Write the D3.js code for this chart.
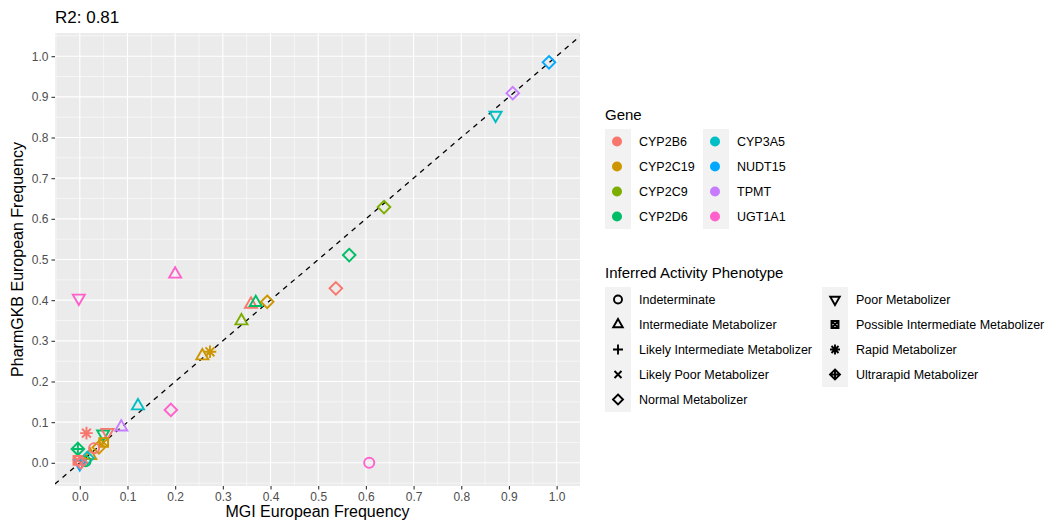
<!DOCTYPE html>
<html>
<head>
<meta charset="utf-8">
<script src="https://cdn.jsdelivr.net/npm/d3@7"></script>
<style>
  body { margin: 0; background: #fff; }
  text { font-family: "Liberation Sans", Arial, sans-serif; }
</style>
</head>
<body>
<svg id="chart" width="1049" height="525"></svg>
<script>
const genes = ['CYP2B6', 'CYP2C19', 'CYP2C9', 'CYP2D6', 'CYP3A5', 'NUDT15', 'TPMT', 'UGT1A1'];
const geneColors = ['#F8766D', '#CD9600', '#7CAE00', '#00BE67', '#00BFC4', '#00A9FF', '#C77CFF', '#FF61CC'];
const phenotypes = ['Indeterminate', 'Intermediate Metabolizer', 'Likely Intermediate Metabolizer',
  'Likely Poor Metabolizer', 'Normal Metabolizer', 'Poor Metabolizer',
  'Possible Intermediate Metabolizer', 'Rapid Metabolizer', 'Ultrarapid Metabolizer'];
const shapeNames = ['circle', 'triangle', 'plus', 'cross', 'diamond', 'triangleDown', 'squareCross', 'asterisk', 'diamondPlus'];

// one entry per point
const pointGene = ['CYP2B6', 'CYP2D6', 'CYP2C19', 'CYP2C9', 'CYP2C19', 'CYP2C19', 'UGT1A1', 'CYP2D6',
  'CYP2B6', 'CYP2C9', 'CYP3A5', 'TPMT', 'NUDT15', 'UGT1A1', 'UGT1A1', 'UGT1A1',
  'CYP3A5', 'TPMT', 'CYP2B6', 'CYP2D6', 'CYP2B6', 'CYP2C19', 'CYP2C19', 'CYP2C19',
  'CYP2B6', 'CYP2D6', 'CYP3A5', 'CYP2D6', 'NUDT15', 'CYP2B6', 'CYP2B6'];
const pointPheno = ['Intermediate Metabolizer', 'Intermediate Metabolizer', 'Normal Metabolizer', 'Intermediate Metabolizer',
  'Intermediate Metabolizer', 'Rapid Metabolizer', 'Intermediate Metabolizer', 'Normal Metabolizer',
  'Normal Metabolizer', 'Normal Metabolizer', 'Poor Metabolizer', 'Normal Metabolizer',
  'Normal Metabolizer', 'Poor Metabolizer', 'Indeterminate', 'Normal Metabolizer',
  'Intermediate Metabolizer', 'Intermediate Metabolizer', 'Rapid Metabolizer', 'Poor Metabolizer',
  'Poor Metabolizer', 'Possible Intermediate Metabolizer', 'Normal Metabolizer', 'Intermediate Metabolizer',
  'Indeterminate', 'Ultrarapid Metabolizer', 'Normal Metabolizer', 'Indeterminate',
  'Poor Metabolizer', 'Possible Intermediate Metabolizer', 'Normal Metabolizer'];
const mgiFreq = [0.359, 0.369, 0.393, 0.339, 0.257, 0.273, 0.2, 0.565,
  0.537, 0.638, 0.872, 0.908, 0.984, -0.002, 0.607, 0.191,
  0.122, 0.087, 0.014, 0.049, 0.058, 0.05, 0.04, 0.022,
  0.03, -0.004, 0.016, 0.012, 0.0, -0.004, 0.002];
const pgkbFreq = [0.39, 0.394, 0.396, 0.349, 0.263, 0.273, 0.464, 0.511,
  0.429, 0.629, 0.855, 0.909, 0.985, 0.405, 0.0, 0.13,
  0.14, 0.088, 0.073, 0.071, 0.075, 0.05, 0.038, 0.018,
  0.036, 0.034, 0.012, 0.004, -0.002, 0.006, 0.001];

const xTicks = d3.range(0, 1.0001, 0.1);
const yTicks = d3.range(0, 1.0001, 0.1);

const svg = d3.select('#chart');
const panel = { left: 55, right: 580, top: 33, bottom: 486 };

const x = d3.scaleLinear().domain([-0.052, 1.049]).range([panel.left, panel.right]);
const y = d3.scaleLinear().domain([-0.057, 1.057]).range([panel.bottom, panel.top]);
const color = d3.scaleOrdinal(genes, geneColors);
const shape = d3.scaleOrdinal(phenotypes, shapeNames);

function symbolPath(name, s) {
  const p = d3.path();
  const h = s * 0.866;
  switch (name) {
    case 'circle':
      p.moveTo(s * 0.8, 0); p.arc(0, 0, s * 0.8, 0, 2 * Math.PI); break;
    case 'triangle':
      p.moveTo(0, -s * 1.1); p.lineTo(h * 1.1, s * 0.55); p.lineTo(-h * 1.1, s * 0.55); p.closePath(); break;
    case 'triangleDown':
      p.moveTo(0, s * 1.1); p.lineTo(h * 1.1, -s * 0.55); p.lineTo(-h * 1.1, -s * 0.55); p.closePath(); break;
    case 'plus':
      p.moveTo(-s, 0); p.lineTo(s, 0); p.moveTo(0, -s); p.lineTo(0, s); break;
    case 'cross':
      p.moveTo(-s * 0.7, -s * 0.7); p.lineTo(s * 0.7, s * 0.7);
      p.moveTo(-s * 0.7, s * 0.7); p.lineTo(s * 0.7, -s * 0.7); break;
    case 'diamond':
      p.moveTo(0, -s); p.lineTo(s, 0); p.lineTo(0, s); p.lineTo(-s, 0); p.closePath(); break;
    case 'squareCross': {
      const a = s * 0.7;
      p.rect(-a, -a, 2 * a, 2 * a);
      p.moveTo(-a, -a); p.lineTo(a, a); p.moveTo(-a, a); p.lineTo(a, -a); break;
    }
    case 'asterisk': {
      const a = s * 0.7;
      p.moveTo(-s, 0); p.lineTo(s, 0); p.moveTo(0, -s); p.lineTo(0, s);
      p.moveTo(-a, -a); p.lineTo(a, a); p.moveTo(-a, a); p.lineTo(a, -a); break;
    }
    case 'diamondPlus':
      p.moveTo(0, -s); p.lineTo(s, 0); p.lineTo(0, s); p.lineTo(-s, 0); p.closePath();
      p.moveTo(-s, 0); p.lineTo(s, 0); p.moveTo(0, -s); p.lineTo(0, s); break;
  }
  return p.toString();
}

// panel background
svg.append('rect')
  .attr('x', panel.left).attr('y', panel.top)
  .attr('width', panel.right - panel.left).attr('height', panel.bottom - panel.top)
  .attr('fill', '#EBEBEB');

const grid = svg.append('g');
const minorX = d3.range(-0.05, 1.06, 0.1).filter(v => v > x.domain()[0] && v < x.domain()[1]);
const minorY = d3.range(-0.05, 1.06, 0.1).filter(v => v > y.domain()[0] && v < y.domain()[1]);

grid.selectAll('.minor-x').data(minorX).enter().append('line')
  .attr('x1', d => x(d)).attr('x2', d => x(d))
  .attr('y1', panel.top).attr('y2', panel.bottom)
  .attr('stroke', '#fff').attr('stroke-width', 0.55);
grid.selectAll('.minor-y').data(minorY).enter().append('line')
  .attr('y1', d => y(d)).attr('y2', d => y(d))
  .attr('x1', panel.left).attr('x2', panel.right)
  .attr('stroke', '#fff').attr('stroke-width', 0.55);
grid.selectAll('.major-x').data(xTicks).enter().append('line')
  .attr('x1', d => x(d)).attr('x2', d => x(d))
  .attr('y1', panel.top).attr('y2', panel.bottom)
  .attr('stroke', '#fff').attr('stroke-width', 1.1);
grid.selectAll('.major-y').data(yTicks).enter().append('line')
  .attr('y1', d => y(d)).attr('y2', d => y(d))
  .attr('x1', panel.left).attr('x2', panel.right)
  .attr('stroke', '#fff').attr('stroke-width', 1.1);

// axes
const xAxis = svg.append('g')
  .attr('transform', `translate(0,${panel.bottom})`)
  .call(d3.axisBottom(x).tickValues(xTicks).tickFormat(d3.format('.1f')).tickSize(3.5).tickPadding(3));
const yAxis = svg.append('g')
  .attr('transform', `translate(${panel.left},0)`)
  .call(d3.axisLeft(y).tickValues(yTicks).tickFormat(d3.format('.1f')).tickSize(3.5).tickPadding(3));
[xAxis, yAxis].forEach(a => {
  a.select('.domain').remove();
  a.selectAll('line').attr('stroke', '#333').attr('stroke-width', 1.1);
  a.selectAll('text').attr('fill', '#4D4D4D').style('font-size', '12px')
    .style('font-family', '"Liberation Sans", Arial, sans-serif');
});

// y = x reference line
svg.append('clipPath').attr('id', 'panel-clip').append('rect')
  .attr('x', panel.left).attr('y', panel.top)
  .attr('width', panel.right - panel.left).attr('height', panel.bottom - panel.top);
svg.append('line')
  .attr('clip-path', 'url(#panel-clip)')
  .attr('x1', x(-0.1)).attr('y1', y(-0.1))
  .attr('x2', x(1.1)).attr('y2', y(1.1))
  .attr('stroke', '#000').attr('stroke-width', 1.3).attr('stroke-dasharray', '5,5');

// points
svg.append('g').selectAll('path')
  .data(mgiFreq.map((v, i) => ({ x: v, y: pgkbFreq[i], gene: pointGene[i], pheno: pointPheno[i] })))
  .enter().append('path')
  .attr('transform', d => `translate(${x(d.x)},${y(d.y)})`)
  .attr('d', d => symbolPath(shape(d.pheno), 6.3))
  .attr('fill', 'none')
  .attr('stroke', d => color(d.gene))
  .attr('stroke-width', 1.9);

// titles
svg.append('text').attr('x', 55).attr('y', 23).text('R2: 0.81')
  .style('font-size', '17px').attr('fill', '#000');
svg.append('text').attr('x', (panel.left + panel.right) / 2).attr('y', 517)
  .attr('text-anchor', 'middle').text('MGI European Frequency').style('font-size', '16px');
svg.append('text')
  .attr('transform', `translate(23,${(panel.top + panel.bottom) / 2}) rotate(-90)`)
  .attr('text-anchor', 'middle').text('PharmGKB European Frequency').style('font-size', '16px');

// gene legend
const geneLegend = svg.append('g').attr('transform', 'translate(605,0)');
geneLegend.append('text').attr('x', 0).attr('y', 120).text('Gene').style('font-size', '15px');
const geneItem = geneLegend.selectAll('.gene-item').data(genes).enter().append('g')
  .attr('transform', (d, i) => `translate(${Math.floor(i / 4) * 98},${129 + (i % 4) * 25})`);
geneItem.append('rect').attr('width', 26).attr('height', 25).attr('fill', '#F2F2F2');
geneItem.append('circle').attr('cx', 12).attr('cy', 12.5).attr('r', 5).attr('fill', d => color(d));
geneItem.append('text').attr('x', 34).attr('y', 17).text(d => d).style('font-size', '12.5px');

// phenotype legend
const phenoLegend = svg.append('g').attr('transform', 'translate(605,0)');
phenoLegend.append('text').attr('x', 0).attr('y', 278).text('Inferred Activity Phenotype').style('font-size', '15px');
const phenoItem = phenoLegend.selectAll('.pheno-item').data(phenotypes).enter().append('g')
  .attr('transform', (d, i) => `translate(${Math.floor(i / 5) * 217},${287 + (i % 5) * 25})`);
phenoItem.append('rect').attr('width', 26).attr('height', 25).attr('fill', '#F2F2F2');
phenoItem.append('path')
  .attr('transform', 'translate(13,12.5)')
  .attr('d', d => symbolPath(shape(d), 5))
  .attr('fill', 'none').attr('stroke', '#000').attr('stroke-width', 1.9);
phenoItem.append('text').attr('x', 34).attr('y', 17).text(d => d).style('font-size', '12.5px');
</script>
</body>
</html>
